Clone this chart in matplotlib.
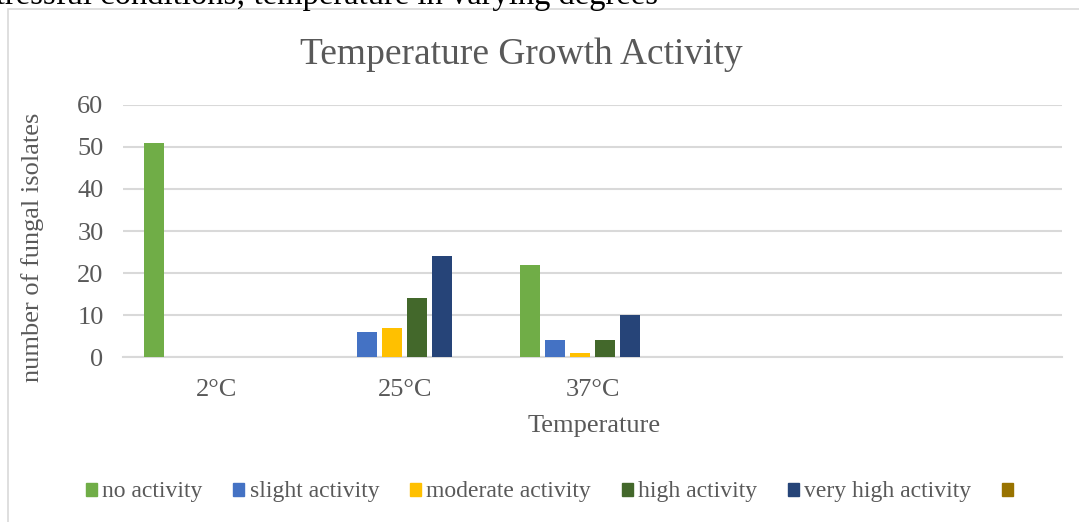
import numpy as np
import matplotlib.pyplot as plt
from matplotlib.patches import Rectangle

plt.rcParams['font.family'] = ['Liberation Serif', 'DejaVu Serif']

temps = ['2°C', '25°C', '37°C', '', '']
series = ['no activity', 'slight activity', 'moderate activity',
          'high activity', 'very high activity', '']
no_activity = [51, 0, 22, 0, 0]
slight_activity = [0, 6, 4, 0, 0]
moderate_activity = [0, 7, 1, 0, 0]
high_activity = [0, 14, 4, 0, 0]
very_high_activity = [0, 24, 10, 0, 0]
unnamed = [0, 0, 0, 0, 0]

colors = ['#70AD47', '#4472C4', '#FFC000', '#43682B', '#264478', '#997300']
TXT = '#595959'
GRID = '#D9D9D9'

W, H = 1079, 522
fig = plt.figure(figsize=(W / 100, H / 100), dpi=100)

# chart frame and the text line above it
fig.add_artist(Rectangle((8 / W, -0.1), 1.2, 1.1 - 9 / H, transform=fig.transFigure,
                         fill=False, edgecolor=GRID, linewidth=1.2))
fig.text(-17 / W, 1 - 4 / H, 'stressful conditions; temperature in varying degrees',
         ha='left', va='baseline', fontsize=23.5, color='black')

ax = fig.add_axes([123 / W, (H - 357) / H, (1062 - 123) / W, (357 - 105) / H])

values = [no_activity, slight_activity, moderate_activity,
          high_activity, very_high_activity, unnamed]
x = np.arange(len(temps))
slot = 25 / 187.8
bw = 20 / 187.8
for i, (name, vals) in enumerate(zip(series, values)):
    off = (i - (len(series) - 1) / 2) * slot
    ax.bar(x + off, vals, bw, color=colors[i], label=name, zorder=3)

ax.set_xlim(-0.5, len(temps) - 0.5)
ax.set_ylim(0, 60)
ax.set_yticks(range(0, 61, 10))
ax.set_xticks(x)
ax.set_xticklabels(temps)
ax.tick_params(length=0, labelsize=19, labelcolor=TXT)
ax.tick_params(axis='y', pad=14)
ax.tick_params(axis='x', pad=16)
ax.grid(axis='y', color=GRID, linewidth=1.5, zorder=0)
for s in ['top', 'right', 'left']:
    ax.spines[s].set_visible(False)
ax.spines['bottom'].set_color(GRID)
ax.spines['bottom'].set_linewidth(1.5)

fig.text(521 / W, (H - 55) / H, 'Temperature Growth Activity',
         ha='center', va='center', fontsize=27, color=TXT)
fig.text(33 / W, (H - 247) / H, 'number of fungal isolates', rotation=90,
         ha='center', va='center', fontsize=19, color=TXT)
fig.text(594 / W, (H - 426) / H, 'Temperature', ha='center', va='center',
         fontsize=19, color=TXT)

handles = [Rectangle((0, 0), 1, 1, color=c) for c in colors]
leg = fig.legend(handles, series, loc='center', bbox_to_anchor=(552 / W, (H - 492) / H),
                 ncol=6, frameon=False, fontsize=17, handlelength=0.47,
                 handleheight=0.47, handletextpad=0.22, columnspacing=1.3,
                 labelcolor=TXT)

fig.savefig('out.png', dpi=100)
